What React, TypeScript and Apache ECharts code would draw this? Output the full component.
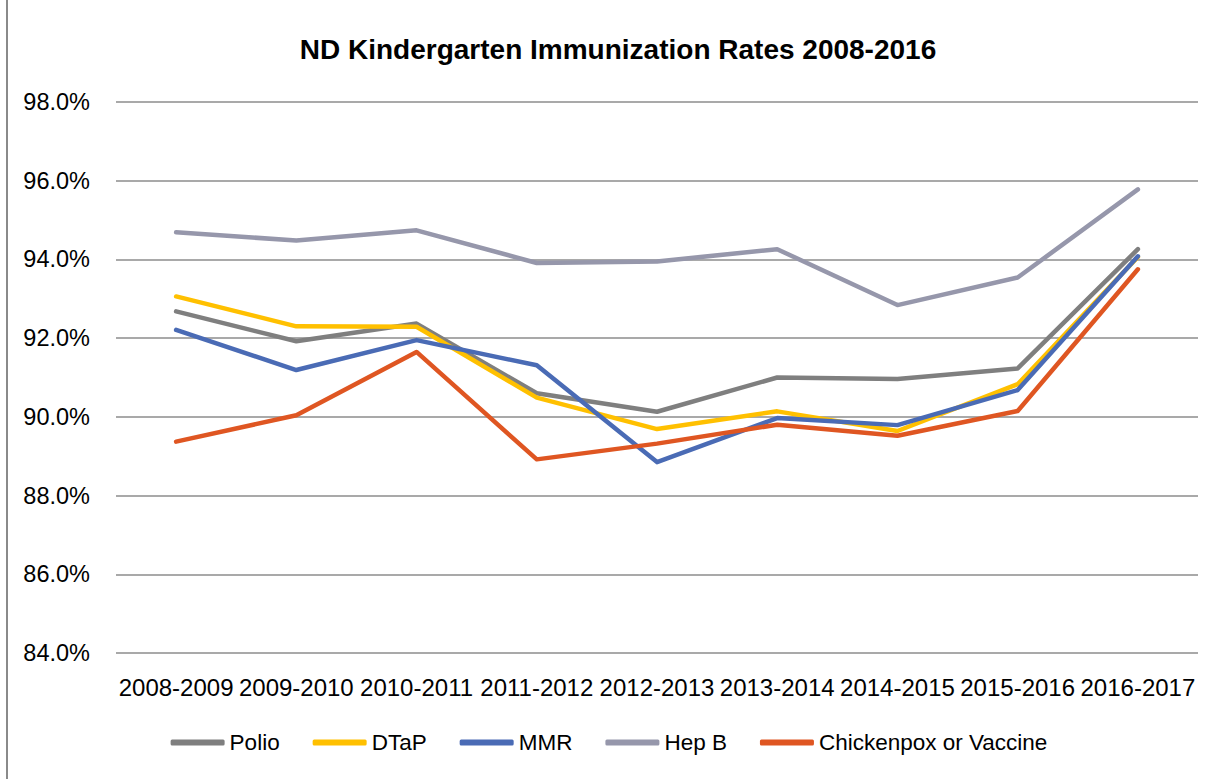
import React, { useEffect, useRef } from "react";
import * as echarts from "echarts";

const categories = [
  "2008-2009", "2009-2010", "2010-2011", "2011-2012", "2012-2013",
  "2013-2014", "2014-2015", "2015-2016", "2016-2017",
];
const polio = [92.68, 91.92, 92.37, 90.6, 90.13, 91.0, 90.96, 91.23, 94.26];
const dtap = [93.06, 92.3, 92.29, 90.49, 89.69, 90.14, 89.64, 90.83, 94.06];
const mmr = [92.21, 91.19, 91.95, 91.31, 88.85, 89.97, 89.79, 90.68, 94.08];
const hepB = [94.69, 94.48, 94.74, 93.91, 93.95, 94.26, 92.84, 93.54, 95.78];
const chickenpox = [89.37, 90.04, 91.65, 88.92, 89.32, 89.8, 89.52, 90.15, 93.75];

const seriesNames = ["Polio", "DTaP", "MMR", "Hep B", "Chickenpox or Vaccine"];
const seriesData = [polio, dtap, mmr, hepB, chickenpox];
const colors = ["#7f7f7f", "#ffc000", "#4a6bb5", "#9697ab", "#df5622"];
const yMin = 84;
const yMax = 98;
const yStep = 2;
const title = "ND Kindergarten Immunization Rates 2008-2016";

const FONT = "'Liberation Sans', Arial, sans-serif";

export default function App() {
  const ref = useRef<HTMLDivElement>(null);
  useEffect(() => {
    if (!ref.current) return;
    const chart = echarts.init(ref.current, null, { renderer: "svg" });
    chart.setOption({
      animation: false,
      backgroundColor: "#ffffff",
      textStyle: { fontFamily: FONT },
      graphic: [
        {
          type: "rect",
          shape: { x: 6, y: 0, width: 2, height: 779 },
          style: { fill: "#8a8a8a" },
        },
        {
          type: "text",
          x: 618,
          y: 49,
          style: {
            text: title,
            textAlign: "center",
            textVerticalAlign: "middle",
            fontFamily: FONT,
            fontWeight: "bold",
            fontSize: 28,
            fill: "#000000",
          },
        },
      ],
      grid: { left: 116, right: 20, top: 102, bottom: 126, containLabel: false },
      xAxis: {
        type: "category",
        data: categories,
        boundaryGap: true,
        axisLine: { show: false },
        axisTick: { show: false },
        axisLabel: {
          interval: 0,
          fontSize: 24,
          color: "#000000",
          margin: 22,
          fontFamily: FONT,
        },
        splitLine: { show: false },
      },
      yAxis: {
        type: "value",
        min: yMin,
        max: yMax,
        interval: yStep,
        axisLine: { show: false },
        axisTick: { show: false },
        axisLabel: {
          fontSize: 23.5,
          color: "#000000",
          margin: 26,
          fontFamily: FONT,
          formatter: (v: number) => v.toFixed(1) + "%",
        },
        splitLine: { lineStyle: { color: "#8c8c8c", width: 1.5 } },
      },
      legend: {
        bottom: 20,
        left: "center",
        itemWidth: 54,
        itemHeight: 6,
        itemGap: 33,
        icon: "roundRect",
        textStyle: { fontSize: 22.5, color: "#000000", fontFamily: FONT },
        data: seriesNames,
      },
      series: seriesNames.map((name, i) => ({
        name,
        type: "line",
        data: seriesData[i],
        symbol: "none",
        color: colors[i],
        lineStyle: { width: 4.5, color: colors[i], cap: "round", join: "round" },
        itemStyle: { color: colors[i] },
      })),
    });
    return () => chart.dispose();
  }, []);
  return (
    <div
      ref={ref}
      style={{ position: "fixed", left: 0, top: 0, width: 1218, height: 779 }}
    />
  );
}
